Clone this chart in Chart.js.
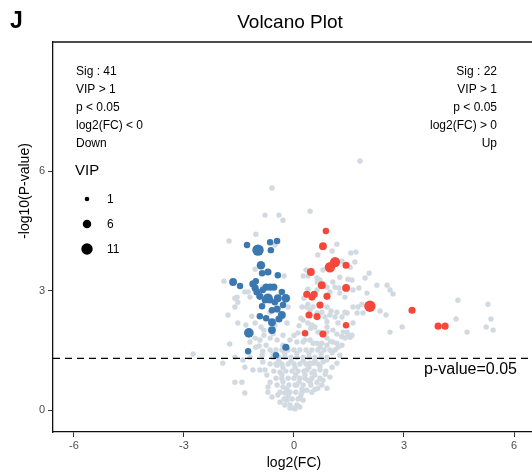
<!DOCTYPE html>
<html>
<head>
<meta charset="utf-8">
<script src="https://cdn.jsdelivr.net/npm/chart.js@4.4.1/dist/chart.umd.min.js"></script>
<style>
  html, body { margin: 0; padding: 0; background: #fff; overflow: hidden; }
  canvas { display: block; }
</style>
</head>
<body>
<canvas id="volcano" width="532" height="474"></canvas>
<script>
// [log2(FC), -log10(P)] for metabolites that are not significant
const greyPoints = [
  [1.80,6.26],[-0.60,5.58],[-0.79,4.90],[-0.41,4.90],[-0.30,4.77],[0.44,5.00],
  [-1.77,4.25],[-1.04,4.42],[-0.52,4.15],[1.17,4.17],[0.65,3.90],[1.04,4.00],
  [1.55,3.95],[1.69,3.97],[1.31,3.74],[1.66,3.72],[1.53,3.59],[0.33,3.52],
  [0.79,3.52],[2.05,3.44],[1.94,3.32],[-1.91,3.24],[-0.27,3.37],[0.25,3.37],
  [0.38,3.37],[0.63,3.32],[0.71,3.27],[1.06,3.22],[1.25,3.34],[1.47,3.29],
  [1.58,3.27],[0.63,3.22],[2.26,3.14],[2.54,3.14],[2.62,3.02],[2.70,2.92],
  [1.77,3.07],[1.99,2.94],[1.61,3.02],[1.12,3.09],[1.23,3.07],[1.25,2.94],
  [1.39,2.84],[0.71,3.14],[0.90,3.09],[0.98,2.97],[0.38,3.04],[0.63,3.02],
  [-0.85,3.09],[-1.34,2.97],[-1.20,2.84],[-1.61,2.81],[-1.53,2.71],[-1.80,2.39],
  [-1.61,2.59],[-1.15,2.36],[-1.06,2.19],[-0.90,2.09],[-0.82,2.01],[-0.19,2.19],
  [-0.27,2.69],[-0.16,2.59],[0.22,2.59],[0.27,2.81],[0.38,2.66],[0.52,2.59],
  [0.90,2.59],[1.01,2.49],[1.12,2.34],[1.45,2.44],[1.61,2.59],[1.20,2.19],
  [0.19,2.31],[0.46,2.06],[0.57,2.09],[0.65,1.96],[0.90,1.96],[1.06,2.01],
  [1.17,1.91],[1.45,1.96],[1.58,1.88],[-1.75,1.66],[-1.20,1.71],[-1.04,1.58],
  [-0.93,1.76],[-0.65,1.81],[-0.46,1.76],[-0.11,1.76],[0.08,1.71],[0.25,1.71],
  [0.44,1.76],[0.63,1.68],[0.71,1.58],[0.90,1.63],[1.06,1.71],[1.20,1.58],
  [1.61,2.19],[1.72,2.44],[1.75,2.59],[1.85,2.66],[1.88,2.44],[2.35,2.49],
  [2.51,2.39],[1.39,2.46],[1.31,2.34],[1.17,2.46],[0.35,2.59],[0.44,2.51],
  [0.63,2.44],[0.76,2.46],[0.85,2.34],[0.98,2.39],[2.62,1.96],[2.95,2.09],
  [4.42,2.29],[4.47,2.76],[5.29,2.66],[5.37,2.29],[5.24,2.09],[5.43,2.01],
  [4.72,1.96],[0.49,2.14],[0.90,2.09],[0.71,1.96],[0.25,2.26],[0.38,2.19],
  [1.34,1.96],[1.53,1.83],[1.17,1.68],[0.30,1.76],[0.52,1.68],[0.76,1.68],
  [0.90,1.81],[0.11,1.94],[-1.53,2.19],[-1.61,1.33],[-1.39,1.26],[-1.20,1.33],
  [-0.30,1.63],[-0.76,1.63],[-1.31,2.14],[-0.65,2.46],[-0.52,2.14],[-1.06,3.54],
  [-1.25,2.97],[-1.55,2.84],
  [-2.75,1.41],[-1.94,1.18],[-1.61,0.70],[-1.42,0.70],[-1.34,0.43],[-1.34,1.08],
  [-1.12,1.01],[-1.06,1.81],[-0.95,1.61],[-0.85,1.48],[-0.87,1.38],[-0.93,1.01],
  [-0.79,1.01],[-0.85,1.21],[-0.71,0.45],[-0.60,0.33],[-0.74,0.88],[-0.65,0.70],
  [-0.71,0.58],[-0.44,0.38],[-0.38,0.20],[-0.25,0.13],[-0.11,0.05],[0.03,0.03],
  [0.16,0.08],[0.25,0.25],[0.35,0.50],[0.38,0.75],[0.49,0.93],[0.52,1.18],
  [0.71,1.01],[0.79,0.75],[0.90,0.55],[0.98,0.83],[1.04,1.08],[1.17,1.18],
  [1.12,1.51],[1.31,1.63],[1.39,1.81],[1.47,1.88],[1.25,1.38],
  [-0.46,1.13],[-0.38,0.95],[-0.33,0.80],[-0.30,0.58],[-0.25,0.43],[-0.19,0.25],
  [-0.11,0.13],[-0.03,0.05],[0.08,0.13],[0.16,0.30],[0.22,0.45],[0.25,0.63],
  [0.30,0.80],[0.35,1.01],[0.44,1.18],[0.57,0.88],[0.63,0.70],[0.65,0.55],
  [0.79,1.21],[0.90,1.26],
  [-0.65,1.51],[-0.49,1.51],[-0.33,1.51],[-0.16,1.51],[0.00,1.51],[0.16,1.51],
  [0.33,1.51],[0.49,1.51],[0.65,1.51],[0.82,1.51],[0.98,1.51],
  [-0.57,1.33],[-0.41,1.33],[-0.25,1.33],[-0.08,1.33],[0.08,1.33],[0.25,1.33],
  [0.41,1.33],[0.57,1.33],[0.74,1.33],[0.90,1.33],
  [-0.65,1.16],[-0.49,1.16],[-0.33,1.16],[-0.16,1.16],[0.00,1.16],[0.16,1.16],
  [0.33,1.16],[0.65,1.16],
  [-0.55,0.98],[-0.22,0.98],[-0.05,0.98],[0.11,0.98],[0.27,0.98],[0.55,0.98],[0.87,0.98],
  [-0.49,0.80],[-0.16,0.80],[0.00,0.80],[0.16,0.80],[0.49,0.80],[0.71,0.80],
  [-0.46,0.63],[-0.14,0.63],[0.03,0.63],[0.08,0.63],[0.46,0.63],[0.76,0.63],
  [-0.38,0.45],[-0.11,0.45],[0.05,0.45],[0.49,0.45],
  [-0.27,0.28],[-0.05,0.28],[0.11,0.28],
  [-0.57,1.42],[-0.25,1.42],[0.08,1.42],[0.41,1.42],[0.74,1.42],[1.04,1.44],
  [-0.41,1.24],[-0.08,1.24],[0.25,1.24],[0.57,1.24],[-0.30,1.07],[0.03,1.07],
  [0.41,1.07],[0.71,1.09],[-0.33,0.89],[0.05,0.89],[0.30,0.89],[0.85,0.90],
  [-0.30,0.71],[0.14,0.71],[0.44,0.71],[-0.19,0.53],[0.22,0.53],[0.57,0.52],
  [-0.16,0.36],[0.19,0.38],[-0.82,1.88],[-0.57,1.92],[-0.30,1.88],[0.00,1.88],
  [0.33,1.92],[1.30,1.85],[0.14,2.12],[0.90,2.22],[1.00,1.72]
];

// [log2(FC), -log10(P), VIP] for significant down-regulated metabolites
const downPoints = [
  [-1.28,4.15,3],[-0.98,4.02,11],[-0.65,4.22,3],[-0.46,4.25,3],[-0.63,4.02,3],
  [-0.90,3.64,6],[-0.87,3.44,3],[-0.71,3.47,4],[-0.44,3.39,3],[-1.66,3.22,5],
  [-1.47,3.12,3],[-1.12,3.17,4],[-1.06,3.07,4],[-1.01,2.97,4],[-0.93,2.86,4],
  [-0.76,3.09,4],[-0.65,3.09,4],[-0.55,3.09,4],[-0.71,2.81,8],[-0.44,2.81,5],
  [-0.22,2.81,6],[-0.87,2.61,3],[-0.52,2.71,3],[-0.46,2.54,4],[-0.93,2.36,3],
  [-0.33,2.39,5],[-0.41,2.29,4],[-0.60,2.21,5],[-0.60,2.01,5],[-1.23,1.94,8],
  [-0.22,1.58,4],[-1.25,1.48,3],[-0.49,1.38,3],[-0.79,2.76,3],[-0.33,2.97,3],
  [-0.85,3.02,3],[-0.60,2.51,3],[-0.76,2.31,3],[-0.30,2.64,3],[-1.04,3.24,3],
  [-0.65,2.76,3]
];

// [log2(FC), -log10(P), VIP] for significant up-regulated metabolites
const upPoints = [
  [0.87,4.50,3],[0.79,4.12,5],[1.12,3.72,9],[0.98,3.59,9],[1.42,3.64,4],
  [0.46,3.47,5],[0.76,3.14,5],[1.42,3.07,5],[0.35,2.91,4],[0.55,2.91,4],
  [0.49,2.84,4],[0.90,2.86,4],[0.71,2.64,4],[2.07,2.61,11],[3.22,2.51,4],
  [0.41,2.39,4],[0.63,2.35,4],[1.42,2.13,3],[3.93,2.11,4],[4.12,2.11,4],
  [0.30,1.93,3],[0.79,1.91,4]
];

const xTicks = [-6, -3, 0, 3, 6];
const yTicks = [0, 3, 6];
const pLine = 1.301; // -log10(0.05)
const vipLegend = [1, 6, 11];
const downNotes = ['Sig : 41', 'VIP > 1', 'p < 0.05', 'log2(FC) < 0', 'Down'];
const upNotes = ['Sig : 22', 'VIP > 1', 'p < 0.05', 'log2(FC) > 0', 'Up'];

const FONT = '"Liberation Sans", Arial, Helvetica, sans-serif';
const GREY = '#d1d9e1';
const BLUE = '#3b78b0';
const RED = '#f5483a';

// point radius from VIP (area-like scale)
const vipRadius = v => 2.3 + 3.4 * Math.pow(Math.max(v - 1, 0) / 10, 0.8);

const toXY = arr => arr.map(p => ({ x: p[0], y: p[1], vip: p[2] }));

// texts, legend and frame that ggplot draws outside the geoms
const decorations = {
  id: 'decorations',
  afterDraw(chart) {
    const { ctx, chartArea } = chart;
    ctx.save();
    ctx.fillStyle = '#000';

    ctx.font = 'bold 23px ' + FONT;
    ctx.textBaseline = 'middle';
    ctx.textAlign = 'left';
    ctx.fillText('J', 10, 22);

    ctx.font = '19px ' + FONT;
    ctx.textAlign = 'center';
    ctx.fillText('Volcano Plot', 290, 23);

    // top frame line
    ctx.strokeStyle = '#111';
    ctx.lineWidth = 1.3;
    ctx.beginPath();
    ctx.moveTo(chartArea.left - 0.6, chartArea.top);
    ctx.lineTo(chartArea.right + 4, chartArea.top);
    ctx.stroke();

    ctx.font = '12px ' + FONT;
    downNotes.forEach((t, i) => {
      ctx.textAlign = 'left';
      ctx.fillText(t, 76, 72 + i * 18);
    });
    upNotes.forEach((t, i) => {
      ctx.textAlign = 'right';
      ctx.fillText(t, 497, 72 + i * 18);
    });

    // VIP size legend
    ctx.font = '15px ' + FONT;
    ctx.textAlign = 'left';
    ctx.fillText('VIP', 75, 171);
    ctx.font = '12px ' + FONT;
    vipLegend.forEach((v, i) => {
      const cy = 199 + i * 25;
      ctx.beginPath();
      ctx.arc(87, cy, vipRadius(v), 0, Math.PI * 2);
      ctx.fill();
      ctx.fillText(String(v), 107, cy + 1);
    });

    // threshold label
    const yp = chart.scales.y.getPixelForValue(pLine);
    ctx.font = '16px ' + FONT;
    ctx.textAlign = 'right';
    ctx.fillText('p-value=0.05', 517, yp + 11);

    // axis titles
    ctx.font = '14px ' + FONT;
    ctx.textAlign = 'center';
    ctx.fillText('log2(FC)', chart.scales.x.getPixelForValue(0), 463);
    ctx.translate(25, 191);
    ctx.rotate(-Math.PI / 2);
    ctx.fillText('-log10(P-value)', 0, 0);
    ctx.restore();
  }
};

const xMin = -6.57, xMax = 6.49;

new Chart(document.getElementById('volcano').getContext('2d'), {
  type: 'scatter',
  data: {
    datasets: [
      {
        type: 'line',
        data: [{ x: xMin, y: pLine }, { x: xMax, y: pLine }],
        borderColor: '#000',
        borderWidth: 1.2,
        borderDash: [7, 5],
        pointRadius: 0,
        order: 0
      },
      {
        data: toXY(downPoints),
        backgroundColor: BLUE,
        borderWidth: 0,
        pointRadius: c => vipRadius(c.raw.vip),
        order: 1
      },
      {
        data: toXY(upPoints),
        backgroundColor: RED,
        borderWidth: 0,
        pointRadius: c => vipRadius(c.raw.vip),
        order: 1
      },
      {
        data: toXY(greyPoints),
        backgroundColor: GREY,
        borderWidth: 0,
        pointRadius: 2.7,
        order: 2
      }
    ]
  },
  options: {
    responsive: false,
    animation: false,
    devicePixelRatio: 1,
    layout: { autoPadding: false, padding: { top: 42, left: 0, right: 0, bottom: 0 } },
    plugins: { legend: { display: false }, tooltip: { enabled: false }, title: { display: false } },
    scales: {
      x: {
        type: 'linear',
        min: xMin,
        max: xMax,
        afterBuildTicks: s => { s.ticks = xTicks.map(v => ({ value: v })); },
        afterFit: s => { s.height = 42; s.paddingLeft = 0; s.paddingRight = 0; },
        grid: { drawOnChartArea: false, drawTicks: true, tickLength: 5, color: '#333', lineWidth: 1 },
        border: { display: true, color: '#111', width: 1.3 },
        ticks: { color: '#4d4d4d', font: { family: FONT, size: 11 }, padding: 2, maxRotation: 0 }
      },
      y: {
        type: 'linear',
        min: -0.55,
        max: 9.25,
        afterBuildTicks: s => { s.ticks = yTicks.map(v => ({ value: v })); },
        afterFit: s => { s.width = 53; s.paddingTop = 0; s.paddingBottom = 0; },
        grid: { drawOnChartArea: false, drawTicks: true, tickLength: 5, color: '#333', lineWidth: 1 },
        border: { display: true, color: '#111', width: 1.3 },
        ticks: { color: '#4d4d4d', font: { family: FONT, size: 11 }, padding: 3 }
      }
    }
  },
  plugins: [decorations]
});
</script>
</body>
</html>
